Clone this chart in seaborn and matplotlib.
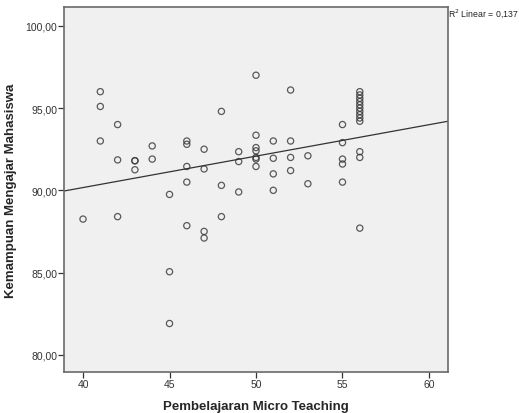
import numpy as np
import pandas as pd
import seaborn as sns
import matplotlib.pyplot as plt
from matplotlib.ticker import FuncFormatter

# scores (x = micro teaching, y = teaching ability)
micro = [40, 41, 41, 41, 42, 42, 42, 43, 43, 43, 44, 44,
         45, 45, 45, 46, 46, 46, 46, 46, 47, 47, 47, 47,
         48, 48, 48, 49, 49, 49, 50, 50, 50, 50, 50, 50, 50,
         51, 51, 51, 51, 52, 52, 52, 52, 53, 53,
         55, 55, 55, 55, 55,
         56, 56, 56, 56, 56, 56, 56, 56, 56, 56, 56, 56, 56]
ability = [88.25, 96.0, 95.1, 93.0, 94.0, 91.85, 88.4, 91.8, 91.8, 91.25, 92.7, 91.9,
           89.75, 85.05, 81.9, 93.0, 92.8, 91.45, 90.5, 87.85, 92.5, 91.3, 87.5, 87.1,
           94.8, 90.3, 88.4, 92.35, 91.75, 89.9, 97.0, 93.35, 92.6, 92.4, 92.0, 91.9, 91.45,
           93.0, 91.95, 91.0, 90.0, 96.1, 93.0, 92.0, 91.2, 92.1, 90.4,
           94.0, 92.9, 91.9, 91.6, 90.5,
           96.0, 95.8, 95.6, 95.4, 95.2, 95.0, 94.8, 94.6, 94.4, 94.2, 92.35, 92.0, 87.7]

df = pd.DataFrame({'Pembelajaran Micro Teaching': micro,
                   'Kemampuan Mengajar Mahasiswa': ability})

sns.set_style('white')
plt.rcParams['font.family'] = ['Liberation Sans', 'DejaVu Sans']

fig = plt.figure(figsize=(5.19, 4.14), dpi=100)
ax = fig.add_axes([0.1233, 0.099, 0.7399, 0.8817])
ax.set_facecolor('#f0f0f0')

# limits first so the fit line spans the whole frame
ax.set_xlim(38.9, 61.1)
ax.set_ylim(78.95, 101.15)

sns.regplot(data=df, x='Pembelajaran Micro Teaching', y='Kemampuan Mengajar Mahasiswa',
            ax=ax, ci=None, truncate=False,
            scatter_kws={'s': 20, 'facecolors': 'none', 'edgecolors': '#333333', 'linewidths': 0.9},
            line_kws={'color': '#333333', 'linewidth': 0.9})

ax.set_xlim(38.9, 61.1)
ax.set_ylim(78.95, 101.15)
ax.set_xticks([40, 45, 50, 55, 60])
ax.set_yticks([80, 85, 90, 95, 100])
ax.yaxis.set_major_formatter(FuncFormatter(lambda v, p: f'{v:.2f}'.replace('.', ',')))
ax.tick_params(axis='both', which='major', direction='out', length=4, width=0.9,
               color='#333333', labelsize=7.5, labelcolor='#333333', pad=1,
               bottom=True, left=True)

for s in ax.spines.values():
    s.set_color('#6a6a6a')
    s.set_linewidth(1.2)

ax.set_xlabel('Pembelajaran Micro Teaching', fontsize=9.5, fontweight='bold', labelpad=8)
ax.set_ylabel('Kemampuan Mengajar Mahasiswa', fontsize=9.5, fontweight='bold', labelpad=6)

fig.text(0.864, 0.966, r'R$^2$ Linear = 0,137', fontsize=6.3, color='#222222', va='center')

fig.savefig('out.png', dpi=100)
